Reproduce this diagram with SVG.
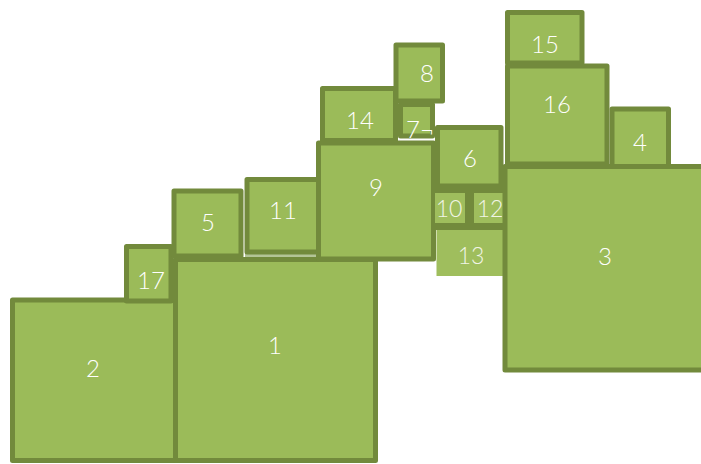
<svg xmlns="http://www.w3.org/2000/svg" width="701" height="464" viewBox="0 0 701 464">
<style>
.b{fill:#9bbb59;stroke:#728a3c;stroke-width:5;stroke-linejoin:round}
.s{fill:#9fbe5d;stroke:none}
.d{fill:#728a3c}
text{font-family:Lato,"Open Sans","Liberation Sans",sans-serif;font-weight:300;font-size:24px;fill:#ffffff;text-anchor:middle;dominant-baseline:central}
.t{font-size:23px;fill:#f1f5e6}
</style>
<rect width="701" height="464" fill="#ffffff"/>
<rect x="245" y="254" width="77" height="3" fill="#b3c496"/>
<g id="n2"><rect class="b" x="12.5" y="300" width="163" height="160.5"/><text x="93" y="367">2</text></g>
<g id="n1"><rect class="b" x="175.5" y="259.5" width="200" height="201"/><text x="275" y="344">1</text></g>
<g id="n17"><rect class="b" x="126.5" y="246.5" width="44.5" height="54.5"/><text x="151" y="279">17</text></g>
<g id="n5"><rect class="b" x="174" y="191" width="67" height="65"/><text x="208" y="221">5</text></g>
<g id="n11"><rect class="b" x="247" y="179.5" width="73" height="72.5"/><text x="283" y="209">11</text></g>
<g id="n14"><rect class="b" x="322.5" y="88.5" width="73" height="52"/><text x="360" y="119">14</text></g>
<g id="n9"><rect class="b" x="318.5" y="143" width="115" height="116"/><text x="376" y="186">9</text></g>
<g id="n8"><rect class="b" x="396" y="45" width="46.5" height="56"/><text x="427" y="72">8</text></g>
<g id="n7"><rect class="b" x="400.5" y="104.5" width="32" height="31.5"/><text x="420" y="128">7¬</text></g>
<g id="n6"><rect class="b" x="437.5" y="127.5" width="63.5" height="58.5"/><text x="470" y="157">6</text></g>
<g id="n10-12-back"><rect class="d" x="433" y="186" width="73" height="44"/></g>
<g id="n10"><rect class="s" x="435" y="193" width="30" height="30"/><text class="t" x="449" y="208">10</text></g>
<g id="n12"><rect class="s" x="474" y="193" width="31" height="30"/><text class="t" x="490" y="208">12</text></g>
<g id="n13"><rect class="s" x="436.5" y="230" width="68.5" height="46"/><text class="t" x="471" y="255">13</text></g>
<g id="n15"><rect class="b" x="507.5" y="12.5" width="74.5" height="50.5"/><text x="545" y="43">15</text></g>
<g id="n16"><rect class="b" x="507.5" y="66" width="99.5" height="98"/><text x="557" y="103">16</text></g>
<g id="n4"><rect class="b" x="612" y="109" width="56.5" height="57.5"/><text x="640" y="141">4</text></g>
<g id="n3"><rect class="b" x="505" y="166.5" width="210" height="203.5"/><text x="605" y="255">3</text></g>
<g id="connectors"></g>
</svg>
